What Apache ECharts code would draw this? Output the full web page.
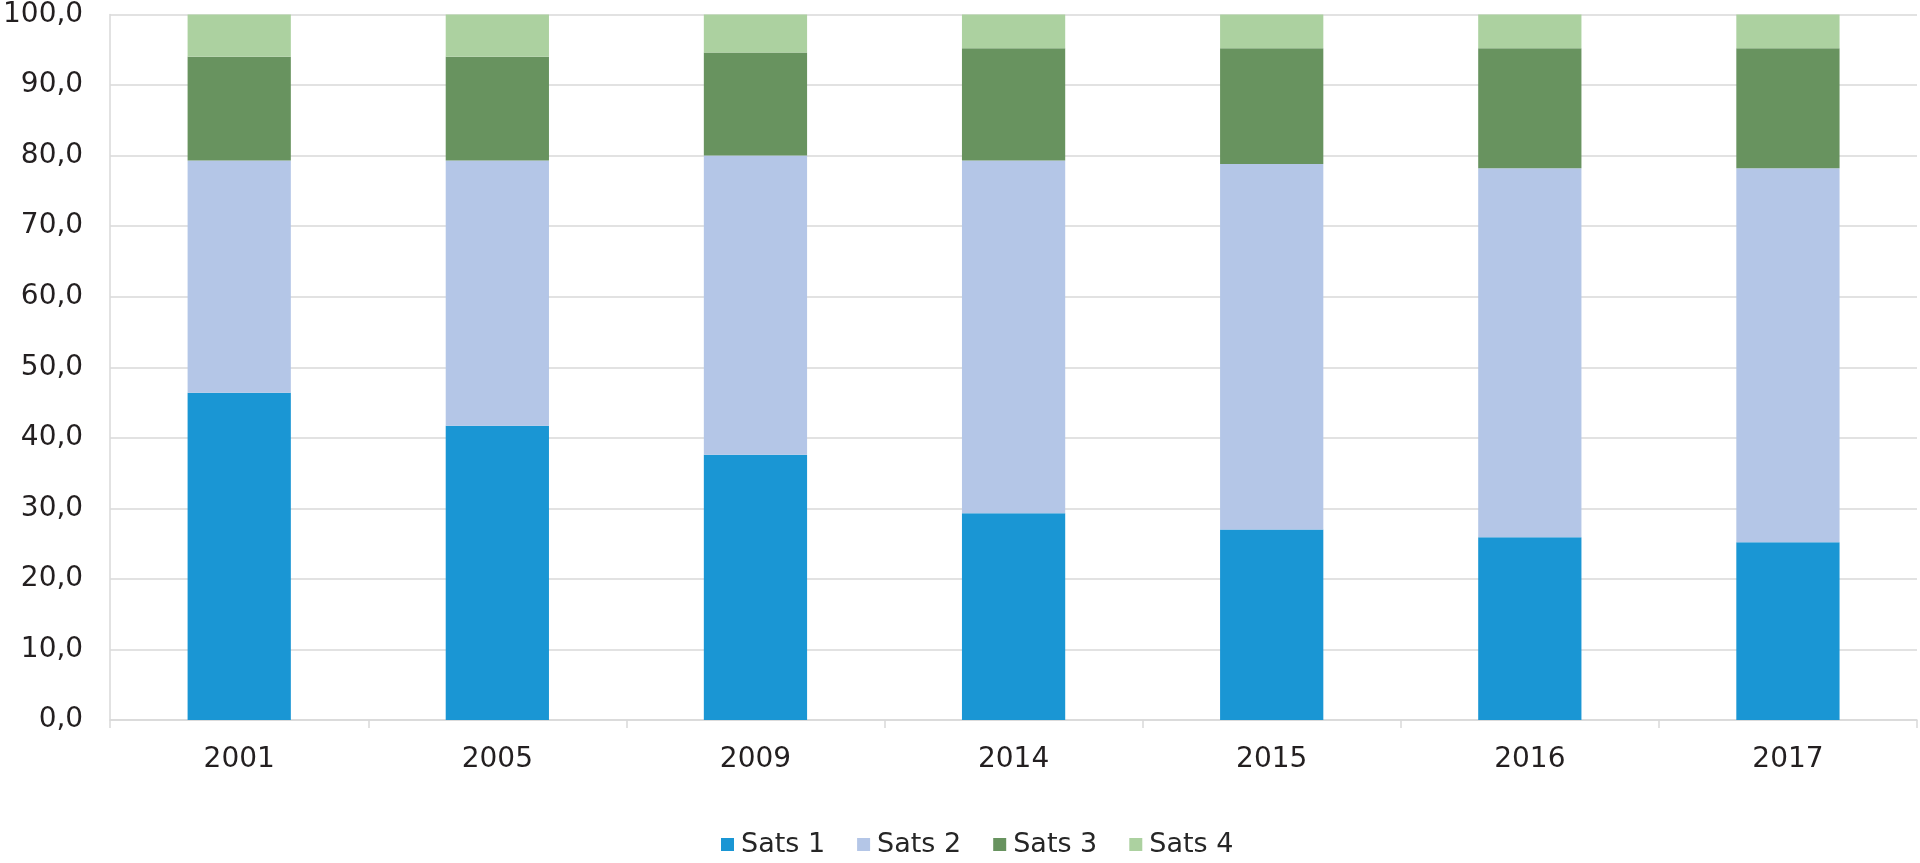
<!DOCTYPE html>
<html>
<head>
<meta charset="utf-8">
<script src="https://cdn.jsdelivr.net/npm/echarts@6/dist/echarts.min.js"></script>
<style>
html,body{margin:0;padding:0;background:#fff;}
#c{width:1920px;height:863px;}
</style>
</head>
<body>
<div id="c"></div>
<script>
const categories = ['2001','2005','2009','2014','2015','2016','2017'];
const seriesNames = ['Sats 1','Sats 2','Sats 3','Sats 4'];
const sats1 = [46.4, 41.7, 37.6, 29.3, 27.0, 25.9, 25.2];
const sats2 = [32.9, 37.6, 42.4, 50.0, 51.8, 52.3, 53.0];
const sats3 = [14.7, 14.7, 14.6, 15.9, 16.4, 17.0, 17.0];
const sats4 = [6.0, 6.0, 5.4, 4.8, 4.8, 4.8, 4.8];
const colors = ['#1a96d4', '#b4c6e7', '#68935f', '#acd1a0'];

const chart = echarts.init(document.getElementById('c'));
const font = 'DejaVu Sans, Verdana, sans-serif';
const dataSets = [sats1, sats2, sats3, sats4];
chart.setOption({
  animation: false,
  color: colors,
  grid: { left: 107, right: 3, top: 14.5, bottom: 143, containLabel: false },
  legend: {
    left: 716, top: 826,
    itemWidth: 13, itemHeight: 13, itemGap: 32,
    icon: 'rect',
    textStyle: { fontFamily: font, fontSize: 27, color: '#262626', padding: [0, 0, 0, 2] },
    data: seriesNames
  },
  xAxis: {
    type: 'category',
    data: categories,
    axisLine: { show: true, lineStyle: { color: '#d9d9d9', width: 1.5 } },
    axisTick: { show: true, length: 8, lineStyle: { color: '#d9d9d9', width: 1.5 } },
    axisLabel: { fontFamily: font, fontSize: 28, color: '#231f20', margin: 26 }
  },
  yAxis: {
    type: 'value',
    min: 0, max: 100, interval: 10,
    axisLine: { show: true, lineStyle: { color: '#d9d9d9', width: 1.5 } },
    axisTick: { show: false },
    splitLine: { show: true, lineStyle: { color: '#d9d9d9', width: 1.5 } },
    axisLabel: {
      fontFamily: font, fontSize: 28, color: '#231f20', margin: 27,
      formatter: v => v.toFixed(1).replace('.', ',')
    }
  },
  series: seriesNames.map((n, i) => ({
    name: n,
    type: 'bar',
    stack: 'total',
    barCategoryGap: '60%',
    data: dataSets[i],
    itemStyle: { color: colors[i] }
  }))
});
</script>
</body>
</html>
